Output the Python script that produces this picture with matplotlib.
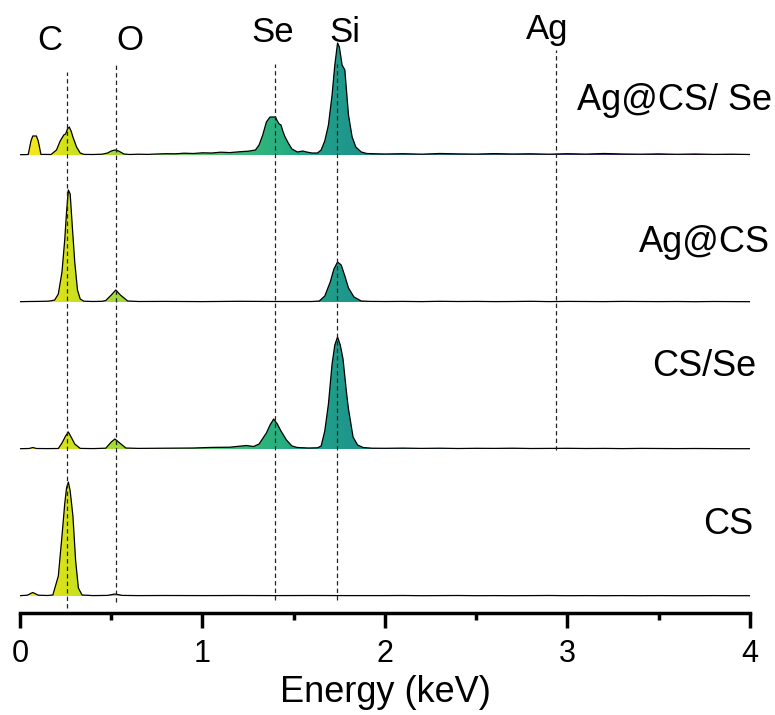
import numpy as np
import matplotlib
matplotlib.use("Agg")
import matplotlib.pyplot as plt
from matplotlib.colors import Normalize
from matplotlib.patches import Polygon
from matplotlib.ticker import MultipleLocator

plt.rcParams['font.family'] = ['Liberation Sans', 'DejaVu Sans']

# tail of every spectrum, 2.0 .. 4.0 keV in 0.1 keV steps
tail_e = [2.0, 2.1, 2.2, 2.3, 2.4, 2.5, 2.6, 2.7, 2.8, 2.9, 3.0,
          3.1, 3.2, 3.3, 3.4, 3.5, 3.6, 3.7, 3.8, 3.9, 4.0]

# Ag@CS/ Se
e_agcsse = [0.00, 0.03, 0.045, 0.06, 0.07, 0.09, 0.10, 0.115, 0.13, 0.17,
            0.20, 0.22, 0.24, 0.25, 0.26, 0.27, 0.28, 0.29, 0.31, 0.33,
            0.35, 0.40, 0.45, 0.48, 0.50, 0.52, 0.54, 0.57, 0.60, 0.65,
            0.70, 0.75, 0.80, 0.85, 0.90, 0.95, 1.00, 1.05, 1.10, 1.15,
            1.20, 1.25, 1.29, 1.31, 1.33, 1.35, 1.37, 1.40, 1.41, 1.42,
            1.43, 1.44, 1.45, 1.47, 1.49, 1.52, 1.55, 1.57, 1.60, 1.63,
            1.65, 1.67, 1.69, 1.71, 1.725, 1.74, 1.75, 1.765, 1.78, 1.80,
            1.82, 1.84, 1.87, 1.90, 1.95] + tail_e
i_agcsse = [0.3, 0.4, 0.5, 14, 19, 19, 14, 0.5, 0.6, 0.5,
            5, 14, 20, 21, 26, 28, 24, 18, 8, 2,
            0.6, 0.5, 0.8, 2, 4, 5, 4, 1, 0.5, 0.8,
            0.6, 1.0, 1.3, 1.2, 1.8, 1.5, 2.2, 2.0, 2.8, 2.4,
            3.2, 3.8, 5, 10, 20, 33, 38, 38, 34, 31,
            30, 24, 19, 12, 6, 3, 4, 3, 2, 2,
            5, 14, 30, 60, 90, 112, 108, 90, 85, 40,
            18, 8, 3, 1.5, 1.2] + \
           [1.0, 1.3, 0.8, 1.5, 1.1, 0.9, 1.4, 1.0, 1.2, 0.8, 1.3,
            0.9, 1.5, 1.0, 0.8, 1.1, 0.7, 1.0, 0.6, 0.8, 0.5]

# Ag@CS
e_agcs = [0.00, 0.05, 0.10, 0.15, 0.17, 0.19, 0.21, 0.23, 0.245, 0.255,
          0.265, 0.275, 0.285, 0.30, 0.315, 0.33, 0.35, 0.40, 0.45, 0.47,
          0.50, 0.525, 0.55, 0.59, 0.65, 0.80, 1.00, 1.20, 1.40, 1.60,
          1.64, 1.67, 1.70, 1.72, 1.74, 1.76, 1.78, 1.80, 1.83, 1.87,
          1.92] + tail_e
i_agcs = [0.3, 0.5, 0.6, 0.8, 1.2, 2, 8, 30, 62, 90,
          112, 108, 80, 40, 12, 3, 0.8, 0.5, 0.7, 1.5,
          7, 12, 7, 1, 0.5, 0.6, 0.4, 0.7, 0.5, 0.5,
          1, 6, 20, 33, 40, 37, 26, 14, 5, 1,
          0.6] + \
         [0.5, 0.6, 0.4, 0.7, 0.5, 0.6, 0.4, 0.5, 0.7, 0.4, 0.6,
          0.5, 0.4, 0.6, 0.5, 0.4, 0.5, 0.3, 0.5, 0.4, 0.3]

# CS/Se
e_csse = [0.00, 0.05, 0.07, 0.09, 0.15, 0.21, 0.23, 0.25, 0.265, 0.28,
          0.30, 0.33, 0.40, 0.47, 0.50, 0.52, 0.54, 0.58, 0.65, 0.80,
          0.95, 1.05, 1.15, 1.24, 1.28, 1.31, 1.35, 1.37, 1.39, 1.41,
          1.43, 1.46, 1.49, 1.52, 1.58, 1.63, 1.65, 1.67, 1.69, 1.71,
          1.725, 1.74, 1.755, 1.77, 1.79, 1.80, 1.825, 1.85, 1.88, 1.93] + tail_e
i_csse = [0.3, 0.5, 1.5, 0.5, 0.4, 0.5, 6, 13, 17, 12,
          5, 0.6, 0.4, 0.8, 7, 10, 7, 1, 0.6, 0.8,
          1.0, 1.6, 1.8, 3.5, 2.5, 5, 16, 24, 30, 25,
          18, 9, 3, 1.5, 1.0, 1.2, 3, 18, 45, 85,
          104, 112, 104, 90, 55, 40, 12, 4, 1.5, 0.8] + \
         [0.7, 0.9, 0.6, 0.8, 0.5, 0.7, 0.6, 0.8, 0.5, 0.6, 0.7,
          0.5, 0.6, 0.4, 0.6, 0.5, 0.4, 0.5, 0.4, 0.3, 0.3]

# CS
e_cs = [0.00, 0.04, 0.07, 0.10, 0.15, 0.18, 0.21, 0.23, 0.245, 0.255,
        0.265, 0.275, 0.29, 0.305, 0.32, 0.34, 0.40, 0.48, 0.52, 0.56,
        0.65, 0.80, 1.00, 1.20, 1.40, 1.60, 1.80] + tail_e
i_cs = [0.3, 0.8, 3.5, 0.8, 0.5, 1, 20, 60, 92, 108,
        114, 105, 80, 35, 8, 1, 0.4, 0.6, 2, 0.6,
        0.4, 0.5, 0.4, 0.5, 0.4, 0.5, 0.4] + \
       [0.4, 0.5, 0.3, 0.4, 0.5, 0.3, 0.4, 0.3, 0.4, 0.5, 0.3,
        0.4, 0.3, 0.4, 0.3, 0.4, 0.3, 0.3, 0.4, 0.3, 0.3]

samples = ["Ag@CS/ Se", "Ag@CS", "CS/Se", "CS"]
energies = [e_agcsse, e_agcs, e_csse, e_cs]
counts = [i_agcsse, i_agcs, i_csse, i_cs]

# element lines (keV)
elements = ["C", "O", "Se", "Si", "Ag"]
element_kev = [0.258, 0.526, 1.397, 1.737, 2.937]

# stacking layout
offsets = [458, 311, 164, 17]
label_pos = [(4.12, 512), (4.11, 371), (4.035, 246), (4.02, 88)]
elem_text_pos = [(0.164, 573), (0.603, 573), (1.386, 581), (1.781, 581), (2.89, 583)]
elem_line_span = [(5, 541), (11, 548), (13, 549), (13, 549), (163, 563)]

fig = plt.figure(figsize=(7.75, 7.15), dpi=100)
ax = fig.add_axes([20 / 775, 102 / 715, 730 / 775, 613 / 715])

norm = Normalize(0, 3.8)
grad = np.linspace(0, 4, 500)[None, :]

for e, c, off in zip(energies, counts, offsets):
    e = np.asarray(e)
    y = off + np.asarray(c)
    verts = list(zip(e, y)) + [(e[-1], off), (e[0], off)]
    patch = Polygon(verts, closed=True, facecolor='none', edgecolor='none')
    ax.add_patch(patch)
    im = ax.imshow(grad, extent=[0, 4, off, off + 120], cmap='viridis_r',
                   norm=norm, aspect='auto', origin='lower', interpolation='bilinear')
    im.set_clip_path(patch)
    ax.plot(e, y, color='black', lw=0.9, zorder=3)

for (x, (y0, y1)) in zip(element_kev, elem_line_span):
    ax.plot([x, x], [y0, y1], color='#222222', lw=0.9, ls=(0, (3.5, 2.5)), zorder=4)

for name, (x, y) in zip(elements, elem_text_pos):
    ax.text(x, y, name, fontsize=25, ha='center', va='center')

for name, (x, y) in zip(samples, label_pos):
    ax.text(x, y, name, fontsize=26, ha='right', va='center')

ax.set_xlim(0, 4)
ax.set_ylim(0, 613)
ax.set_yticks([])
for s in ['top', 'left', 'right']:
    ax.spines[s].set_visible(False)
ax.spines['bottom'].set_linewidth(2.5)
ax.xaxis.set_major_locator(MultipleLocator(1))
ax.xaxis.set_minor_locator(MultipleLocator(0.5))
ax.tick_params(axis='x', which='major', direction='out', length=11, width=2.5,
               labelsize=22, pad=8)
ax.tick_params(axis='x', which='minor', direction='out', length=5, width=2.5)
ax.set_xlabel("Energy (keV)", fontsize=26, labelpad=4)
ax.patch.set_alpha(0)

fig.savefig("out.png", dpi=100)
